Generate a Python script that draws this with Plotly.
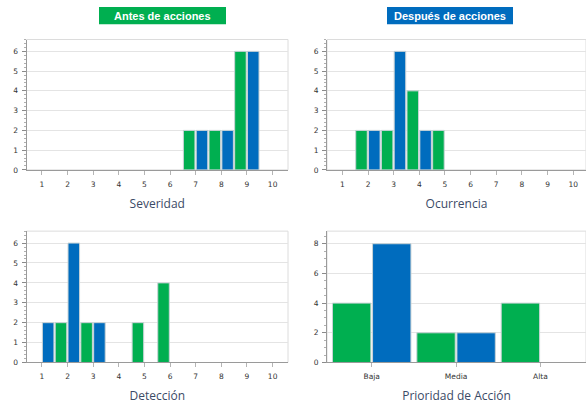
import plotly.graph_objects as go

# Scores 1..10 for the three FMEA ratings
scores = list(range(1, 11))

severidad_antes = [0, 0, 0, 0, 0, 0, 2, 2, 6, 0]
severidad_despues = [0, 0, 0, 0, 0, 0, 2, 2, 6, 0]

ocurrencia_antes = [0, 2, 2, 4, 2, 0, 0, 0, 0, 0]
ocurrencia_despues = [0, 2, 6, 2, 0, 0, 0, 0, 0, 0]

deteccion_antes = [0, 2, 2, 0, 2, 4, 0, 0, 0, 0]
deteccion_despues = [2, 6, 2, 0, 0, 0, 0, 0, 0, 0]

prioridades = ["Baja", "Media", "Alta"]
prioridad_antes = [4, 2, 4]
prioridad_despues = [8, 2, 0]

GREEN = "#00AF50"
BLUE = "#006CBE"
EDGE = "#C9D3D6"
GRID = "#E4E4E4"
AXIS = "#9A9A9A"
BORDER = "#DCDCDC"
TITLE_COLOR = "#3B4A66"


def nz(vals):
    return [v if v else None for v in vals]


fig = go.Figure()

panels = [
    ("x", "y", scores, severidad_antes, severidad_despues, 0.45, -0.48, 0.02),
    ("x2", "y2", scores, ocurrencia_antes, ocurrencia_despues, 0.45, -0.48, 0.02),
    ("x3", "y3", scores, deteccion_antes, deteccion_despues, 0.45, -0.48, 0.02),
    ("x4", "y4", prioridades, prioridad_antes, prioridad_despues, 0.455, -0.465, 0.01),
]

for xa, ya, cats, antes, despues, w, off_a, off_d in panels:
    fig.add_trace(go.Bar(
        x=cats, y=nz(antes), xaxis=xa, yaxis=ya, width=w, offset=off_a,
        marker=dict(color=GREEN, line=dict(color=EDGE, width=1)),
        name="Antes de acciones", showlegend=False,
    ))
    fig.add_trace(go.Bar(
        x=cats, y=nz(despues), xaxis=xa, yaxis=ya, width=w, offset=off_d,
        marker=dict(color=BLUE, line=dict(color=EDGE, width=1)),
        name="Después de acciones", showlegend=False,
    ))

W, H = 586, 407
# plot-area boxes in pixels: (left, right, top, bottom)
boxes = [
    (26.5, 288, 40, 172),
    (327, 586, 40, 172),
    (26.5, 288, 234, 367),
    (327, 586, 234, 367),
]

tick_font = dict(family="DejaVu Sans", size=7.5, color="#333333")
title_font = dict(family="Open Sans", size=12, color=TITLE_COLOR)
titles = ["Severidad", "Ocurrencia", "Detección", "Prioridad de Acción"]
yranges = [[0, 6.6], [0, 6.6], [0, 6.6], [0, 8.85]]
ydticks = [1, 1, 1, 2]
yminor = [0.2, 0.2, 0.2, 0.5]
xranges = [[0.4, 10.6], [0.4, 10.5], [0.4, 10.6], [-0.53, 2.54]]

layout = dict(
    width=W, height=H,
    margin=dict(l=0, r=0, t=0, b=0),
    paper_bgcolor="white", plot_bgcolor="white",
    barmode="overlay",
    shapes=[], annotations=[],
)

for i, (l, r, t, b) in enumerate(boxes):
    sfx = "" if i == 0 else str(i + 1)
    xd = [l / W, min(r / W, 1.0)]
    yd = [1 - b / H, 1 - t / H]
    xaxis = dict(
        domain=xd, anchor="y" + sfx, range=xranges[i],
        showgrid=False, zeroline=False,
        showline=True, linecolor=AXIS, linewidth=1,
        ticks="outside", ticklen=4, tickcolor="#B5B5B5",
        ticklabelstandoff=3,
        tickfont=tick_font, fixedrange=True,
        title=dict(text=titles[i], font=title_font, standoff=11),
    )
    if i < 3:
        xaxis.update(tickmode="array", tickvals=scores,
                     ticktext=[str(s) for s in scores])
    else:
        xaxis.update(type="category")
    yaxis = dict(
        domain=yd, anchor="x" + sfx, range=yranges[i],
        dtick=ydticks[i], tick0=0,
        showgrid=True, gridcolor=GRID, gridwidth=1, zeroline=False,
        showline=True, linecolor=AXIS, linewidth=1,
        ticks="outside", ticklen=4, tickcolor="#8A8A8A",
        ticklabelstandoff=2,
        tickfont=tick_font, fixedrange=True,
        minor=dict(dtick=yminor[i], ticks="outside", ticklen=2,
                   tickcolor="#B0B0B0", showgrid=False),
    )
    layout["xaxis" + sfx] = xaxis
    layout["yaxis" + sfx] = yaxis
    # light frame around each plot area (top and right edges)
    layout["shapes"].append(dict(
        type="rect", xref="x" + sfx + " domain", yref="y" + sfx + " domain",
        x0=0, x1=1, y0=0, y1=1, line=dict(color=BORDER, width=1),
        layer="below",
    ))

# header badges
badges = [
    ("Antes de acciones", GREEN, 99, 226),
    ("Después de acciones", BLUE, 387, 513),
]
for text, color, x0, x1 in badges:
    layout["shapes"].append(dict(
        type="rect", xref="paper", yref="paper",
        x0=x0 / W, x1=x1 / W, y0=1 - 24.5 / H, y1=1 - 7 / H,
        fillcolor=color, line=dict(width=0), layer="above",
    ))
    layout["annotations"].append(dict(
        text=f"<b>{text}</b>", xref="paper", yref="paper",
        x=(x0 + x1) / 2 / W, y=1 - 15.8 / H, showarrow=False,
        xanchor="center", yanchor="middle",
        font=dict(family="Liberation Sans", size=11, color="white"),
    ))

fig.update_layout(**layout)
fig.write_html("out.html")
